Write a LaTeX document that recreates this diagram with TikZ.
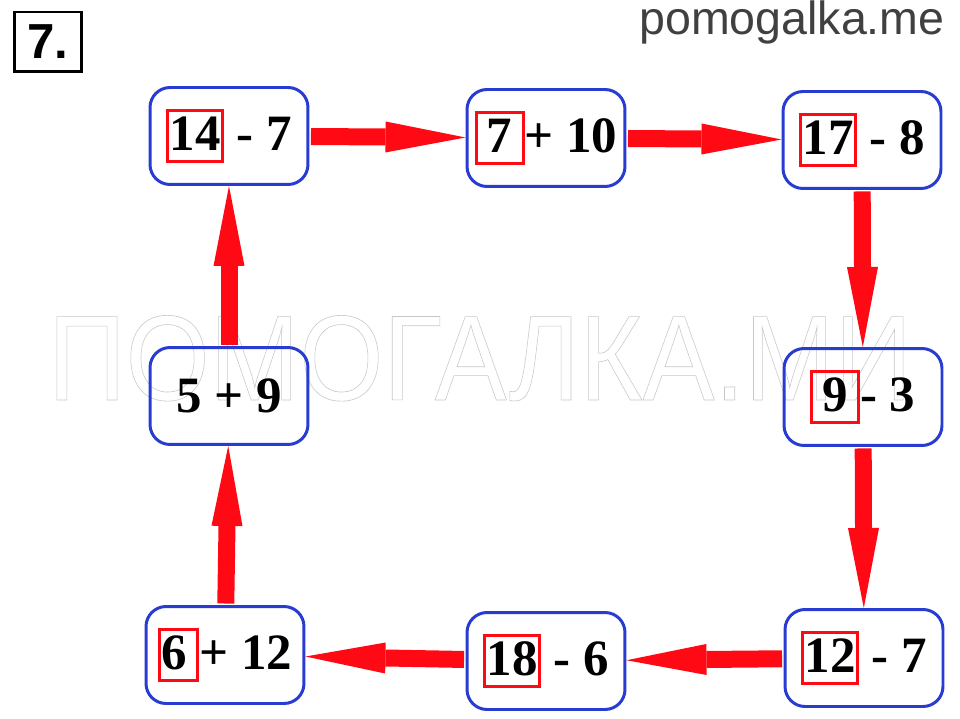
\documentclass[tikz,border=0pt]{standalone}
\usepackage{fontspec}
\setmainfont{Liberation Serif}
\setsansfont{Liberation Sans}
\usetikzlibrary{arrows.meta}
\definecolor{boxblue}{RGB}{40,60,210}
\definecolor{ansred}{RGB}{255,10,20}
\definecolor{sitegray}{RGB}{64,64,64}
\newcommand{\ansbox}[1]{{\setlength\fboxrule{1.7pt}\setlength\fboxsep{0.4pt}%
  \color{ansred}\fbox{\color{black}\rule[-0.17em]{0pt}{0.9em}#1}}}
\newcommand{\outlinetext}[1]{\special{pdf:literal direct 1 Tr 0.35 w 0.78 G}#1\special{pdf:literal direct 0 Tr}}

\begin{document}
\begin{tikzpicture}[x=0.02cm,y=-0.02cm,
    taskbox/.style={draw=boxblue,line width=1.7pt,rounded corners=0.4cm,
      minimum width=3.16cm,minimum height=1.94cm,inner sep=0pt,
      font=\fontsize{29}{32}\selectfont\bfseries},
    bigarrow/.style={draw=ansred,line width=0.34cm,
      -{Triangle[length=1.6cm,width=0.62cm,line width=0pt]},shorten <=0.85pt}]
  \useasboundingbox (0,0) rectangle (960,719);

  % watermarks
  \node[anchor=base,font=\sffamily\fontsize{69}{75}\selectfont,text=white,xscale=0.89,inner sep=0pt]
    (wm) at (480,400) {\outlinetext{ПОМОГАЛКА.МИ}};
  \node[anchor=base east,font=\sffamily\fontsize{26.5}{30}\selectfont,text=sitegray,inner sep=0pt]
    (site) at (945,35) {pomogalka.me};

  % number of the task
  \node[draw,line width=1.7pt,minimum width=1.34cm,minimum height=1.2cm,inner sep=0pt,
    font=\sffamily\bfseries\fontsize{28}{30}\selectfont] (num) at (48,42) {7.};

  % the chain
  \node[taskbox] (b1) at (229,136) {\ansbox{14} - 7};
  \node[taskbox] (b2) at (546,138) {\ansbox{\,7\,}+ 10};
  \node[taskbox] (b3) at (862,140) {\ansbox{17} - 8};
  \node[taskbox] (b5) at (863,397) {\ansbox{\,9\,}- 3};
  \node[taskbox] (b8) at (864,658) {\ansbox{12} - 7};
  \node[taskbox] (b7) at (546,661) {\ansbox{18} - 6};
  \node[taskbox] (b6) at (225,655) {\ansbox{6\,}+ 12};
  \node[taskbox] (b4) at (229,396) {5 + 9};

  \draw[bigarrow] (b1) -- (b2);
  \draw[bigarrow] (b2) -- (b3);
  \draw[bigarrow] (b3) -- (b5);
  \draw[bigarrow] (b5) -- (b8);
  \draw[bigarrow] (b8) -- (b7);
  \draw[bigarrow] (b7) -- (b6);
  \draw[bigarrow] (b6) -- (b4);
  \draw[bigarrow] (b4) -- (b1);
\end{tikzpicture}
\end{document}
